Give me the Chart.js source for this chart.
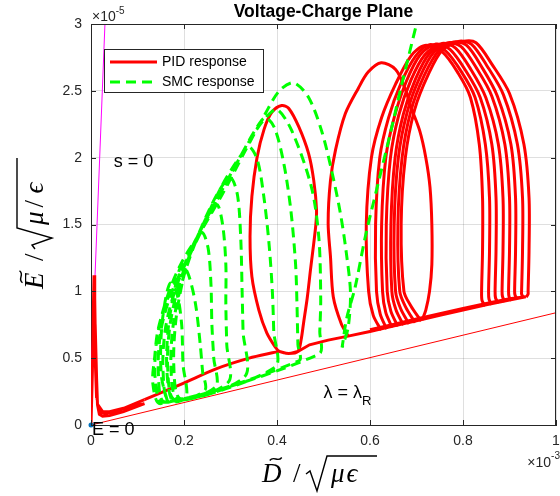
<!DOCTYPE html>
<html>
<head>
<meta charset="utf-8">
<script src="https://cdn.jsdelivr.net/npm/chart.js@4.4.0/dist/chart.umd.min.js"></script>
<style>
  html, body { margin: 0; padding: 0; background: #fff; }
  canvas { display: block; }
</style>
</head>
<body>
<canvas id="plane" width="560" height="496"></canvas>
<script>
/* ==========================
   Data (x in units of 1e-3, y in units of 1e-5)
   ========================== */
const xTicks = [0, 0.2, 0.4, 0.6, 0.8, 1];
const yTicks = [0, 0.5, 1, 1.5, 2, 2.5, 3];

// reference lines
const sLine = [[-0.004, 0], [0.03, 3]];          // s = 0
const lambdaLine = [[0, 0], [1, 0.84]];           // lambda = lambda_R
const origin = [[0, 0]];

// PID response: start-up spike + thick bottom band
const pidSpike = [
  [0, 0], [0.003, 0.4], [0.005, 0.85], [0.0065, 1.12], [0.008, 0.95], [0.01, 0.5],
  [0.012, 0.2], [0.008, 0.6], [0.006, 0.9], [0.009, 0.75], [0.012, 0.35], [0.014, 0.15],
  [0.018, 0.08], [0.025, 0.065], [0.04, 0.07], [0.07, 0.1], [0.115, 0.16], [0.07, 0.125],
  [0.04, 0.1], [0.025, 0.1], [0.017, 0.14], [0.02, 0.1], [0.03, 0.085], [0.06, 0.11], [0.115, 0.19]
];
// PID sliding ridge up to the first loop
const pidRidge = [[0.115, 0.19], [0.197, 0.31], [0.269, 0.42], [0.34, 0.5], [0.39, 0.54], [0.405, 0.55]];
// first PID loop
const pidLoop1 = [
  [0.405, 0.55], [0.425, 0.535], [0.445, 0.55], [0.452, 0.64], [0.457, 0.76], [0.465, 0.95],
  [0.472, 1.16], [0.483, 1.48], [0.485, 1.61], [0.479, 1.83], [0.468, 2.03], [0.447, 2.23],
  [0.425, 2.37], [0.41, 2.39], [0.389, 2.34], [0.372, 2.21], [0.357, 2.0], [0.346, 1.71],
  [0.342, 1.41], [0.346, 1.11], [0.361, 0.86], [0.378, 0.69], [0.397, 0.58], [0.405, 0.55],
  [0.425, 0.535], [0.445, 0.55]
];
// ridge after the first loop (travelled out and back)
const pidRidge2 = [
  [0.445, 0.55], [0.47, 0.6], [0.51, 0.635], [0.553, 0.665], [0.6, 0.7], [0.65, 0.74],
  [0.7, 0.78], [0.75, 0.82], [0.8, 0.86], [0.85, 0.9], [0.9, 0.935], [0.935, 0.96],
  [0.9, 0.945], [0.85, 0.91], [0.8, 0.872], [0.75, 0.833], [0.7, 0.793], [0.65, 0.752], [0.6, 0.712]
];
// second PID loop
const pidLoop2 = [
  [0.553, 0.665], [0.538, 0.76], [0.521, 0.96], [0.515, 1.26], [0.51, 1.51], [0.515, 1.83],
  [0.526, 2.06], [0.547, 2.33], [0.575, 2.52], [0.596, 2.64], [0.624, 2.71], [0.655, 2.66],
  [0.675, 2.52], [0.688, 2.38], [0.707, 2.2], [0.72, 2.0], [0.729, 1.78], [0.733, 1.5],
  [0.733, 1.2], [0.728, 1.0], [0.72, 0.86], [0.712, 0.785]
];
// PID limit cycles on the right
const pidCycles = [
  [[0.624, 0.709], [0.607, 0.82], [0.597, 1.0], [0.592, 1.5], [0.603, 2.0], [0.625, 2.3], [0.655, 2.55], [0.688, 2.76], [0.718, 2.84], [0.756, 2.79], [0.79, 2.63], [0.816, 2.45], [0.835, 2.1], [0.842, 1.7], [0.842, 1.3], [0.84, 1.0], [0.841, 0.93], [0.848, 0.89]],
  [[0.636, 0.718], [0.622, 0.83], [0.614, 1.0], [0.612, 1.5], [0.621, 2.0], [0.64, 2.3], [0.667, 2.56], [0.698, 2.76], [0.728, 2.845], [0.762, 2.8], [0.797, 2.64], [0.826, 2.45], [0.848, 2.1], [0.857, 1.7], [0.857, 1.3], [0.855, 1.0], [0.856, 0.94], [0.862, 0.9]],
  [[0.648, 0.728], [0.634, 0.84], [0.627, 1.0], [0.625, 1.5], [0.634, 2.0], [0.652, 2.3], [0.678, 2.57], [0.708, 2.77], [0.742, 2.85], [0.772, 2.81], [0.806, 2.65], [0.837, 2.45], [0.862, 2.1], [0.871, 1.7], [0.871, 1.3], [0.869, 1.0], [0.87, 0.95], [0.876, 0.91]],
  [[0.66, 0.737], [0.645, 0.85], [0.637, 1.0], [0.635, 1.5], [0.644, 2.0], [0.662, 2.32], [0.688, 2.58], [0.718, 2.77], [0.755, 2.855], [0.784, 2.82], [0.817, 2.66], [0.849, 2.45], [0.876, 2.1], [0.886, 1.7], [0.886, 1.3], [0.884, 1.0], [0.885, 0.96], [0.89, 0.92]],
  [[0.672, 0.747], [0.656, 0.86], [0.647, 1.0], [0.645, 1.5], [0.654, 2.0], [0.672, 2.33], [0.698, 2.59], [0.728, 2.78], [0.768, 2.86], [0.796, 2.83], [0.829, 2.67], [0.862, 2.46], [0.89, 2.1], [0.9, 1.7], [0.9, 1.3], [0.898, 1.0], [0.899, 0.96], [0.904, 0.93]],
  [[0.684, 0.756], [0.666, 0.87], [0.655, 1.0], [0.652, 1.5], [0.661, 2.0], [0.68, 2.34], [0.707, 2.6], [0.738, 2.79], [0.78, 2.865], [0.808, 2.84], [0.84, 2.68], [0.874, 2.46], [0.903, 2.1], [0.913, 1.7], [0.913, 1.3], [0.911, 1.0], [0.912, 0.97], [0.917, 0.94]],
  [[0.697, 0.766], [0.677, 0.88], [0.664, 1.0], [0.66, 1.5], [0.669, 2.0], [0.688, 2.35], [0.716, 2.61], [0.748, 2.8], [0.79, 2.87], [0.818, 2.85], [0.851, 2.69], [0.887, 2.47], [0.917, 2.1], [0.928, 1.7], [0.928, 1.3], [0.926, 1.0], [0.926, 0.98], [0.93, 0.95]],
  [[0.71, 0.777], [0.688, 0.89], [0.673, 1.0], [0.667, 1.5], [0.676, 2.0], [0.696, 2.36], [0.725, 2.62], [0.757, 2.81], [0.8, 2.87], [0.828, 2.86], [0.862, 2.7], [0.9, 2.48], [0.931, 2.1], [0.942, 1.7], [0.942, 1.3], [0.94, 1.0], [0.94, 0.98], [0.936, 0.955]]
];

// SMC response: growing loops that slide back along the bottom line
const smcCycles = [
  [[0.165, 0.17], [0.152, 0.35], [0.15, 0.6], [0.156, 0.85], [0.17, 1.06], [0.185, 0.98], [0.195, 0.75], [0.198, 0.45], [0.205, 0.21]],
  [[0.175, 0.18], [0.163, 0.42], [0.166, 0.72], [0.178, 0.98], [0.195, 1.2], [0.21, 1.12], [0.225, 0.9], [0.235, 0.6], [0.24, 0.4], [0.245, 0.26]],
  [[0.19, 0.2], [0.178, 0.45], [0.183, 0.8], [0.2, 1.12], [0.22, 1.35], [0.239, 1.44], [0.252, 1.32], [0.258, 1.05], [0.26, 0.75], [0.264, 0.5], [0.268, 0.285]],
  [[0.185, 0.2], [0.172, 0.45], [0.178, 0.78], [0.2, 1.12], [0.235, 1.45], [0.27, 1.65], [0.283, 1.5], [0.29, 1.2], [0.29, 0.9], [0.292, 0.6], [0.295, 0.32]],
  [[0.18, 0.19], [0.165, 0.42], [0.17, 0.75], [0.192, 1.08], [0.24, 1.5], [0.275, 1.75], [0.3, 1.85], [0.315, 1.72], [0.322, 1.4], [0.325, 1.0], [0.327, 0.7], [0.33, 0.36]],
  [[0.17, 0.18], [0.155, 0.4], [0.16, 0.72], [0.182, 1.02], [0.225, 1.38], [0.28, 1.78], [0.315, 1.98], [0.34, 2.08], [0.358, 1.98], [0.372, 1.7], [0.383, 1.35], [0.39, 1.0], [0.393, 0.7], [0.395, 0.43]],
  [[0.16, 0.17], [0.145, 0.38], [0.15, 0.7], [0.172, 0.98], [0.215, 1.3], [0.27, 1.68], [0.32, 2.0], [0.352, 2.2], [0.375, 2.3], [0.395, 2.22], [0.415, 1.95], [0.43, 1.6], [0.44, 1.2], [0.443, 0.9], [0.445, 0.6], [0.447, 0.48]],
  [[0.155, 0.17], [0.138, 0.35], [0.142, 0.65], [0.162, 0.92], [0.205, 1.22], [0.25, 1.54], [0.3, 1.87], [0.345, 2.15], [0.376, 2.3], [0.4, 2.36], [0.432, 2.2], [0.474, 1.78], [0.49, 1.4], [0.494, 0.95], [0.492, 0.7], [0.49, 0.53]],
  [[0.15, 0.16], [0.133, 0.31], [0.137, 0.51], [0.144, 0.71], [0.169, 1.01], [0.197, 1.23], [0.233, 1.43], [0.283, 1.73], [0.333, 2.06], [0.375, 2.33], [0.405, 2.5], [0.436, 2.56], [0.468, 2.45], [0.496, 2.2], [0.517, 1.91], [0.536, 1.59], [0.549, 1.29], [0.558, 0.99], [0.553, 0.73], [0.54, 0.58]]
];
// SMC final excursion leaving the plot
const smcEscape = [[0.54, 0.58], [0.55, 0.8], [0.568, 1.03], [0.59, 1.41], [0.617, 1.8], [0.645, 2.2], [0.667, 2.53], [0.7, 3.0], [0.71, 3.15]];

/* --------------------------
   Styles
   -------------------------- */
const RED = "#ff0000";
const GREEN = "#00ff00";
const AXIS = "#262626";
const SANS = "'Liberation Sans', Arial, Helvetica, sans-serif";
const SERIF = "'Liberation Serif', 'Times New Roman', serif";
const GREEN_DASH = [10, 6];

const toXY = (arr) => arr.map(([x, y]) => ({ x, y }));

function redSet(arr, tension) {
  return {
    data: toXY(arr),
    showLine: true,
    borderColor: RED,
    borderWidth: 3,
    tension,
    pointRadius: 0,
    order: 2,
  };
}

const datasets = [
  { data: toXY(lambdaLine), showLine: true, borderColor: RED, borderWidth: 1, pointRadius: 0, order: 4 },
  { data: toXY(sLine), showLine: true, borderColor: "#ff00ff", borderWidth: 1, pointRadius: 0, order: 4 },
  redSet(pidSpike, 0),
  redSet(pidRidge, 0.3),
  redSet(pidLoop1, 0.3),
  redSet(pidRidge2, 0),
  redSet(pidLoop2, 0.3),
  ...pidCycles.map((c) => redSet(c, 0.3)),
  {
    data: toXY(smcCycles.flat().concat(smcEscape)),
    showLine: true,
    borderColor: GREEN,
    borderWidth: 3,
    borderDash: GREEN_DASH,
    tension: 0.3,
    pointRadius: 0,
    order: 1,
  },
  {
    data: toXY(origin),
    showLine: false,
    pointRadius: 2.5,
    pointBackgroundColor: "#0072bd",
    pointBorderWidth: 0,
    clip: false,
    order: 0,
  },
];

/* --------------------------
   Helpers for the TeX-like axis labels
   -------------------------- */
function drawTilde(ctx, cx, ty) {
  ctx.beginPath();
  ctx.moveTo(cx - 6, ty + 1.5);
  ctx.bezierCurveTo(cx - 2, ty - 4, cx + 2, ty + 4, cx + 6, ty - 1.5);
  ctx.stroke();
}

function drawRadical(ctx, x0, x1, b) {
  ctx.beginPath();
  ctx.moveTo(x0, b - 8);
  ctx.lineTo(x0 + 4, b - 11);
  ctx.lineTo(x0 + 11, b + 9);
  ctx.lineTo(x0 + 21, b - 26);
  ctx.lineTo(x1, b - 26);
  ctx.stroke();
}

function mathText(ctx, txt, x, b, italic) {
  ctx.font = (italic ? "italic " : "") + "27px " + SERIF;
  ctx.fillText(txt, x, b);
  return ctx.measureText(txt).width;
}

/* --------------------------
   Plugin: box, ticks, title, texts, legend
   -------------------------- */
const decorations = {
  id: "decorations",
  afterDatasetsDraw(chart) {
    const { ctx, chartArea: a, scales } = chart;
    const sx = scales.x, sy = scales.y;
    ctx.save();

    // axes box (top and right)
    ctx.strokeStyle = AXIS;
    ctx.lineWidth = 1;
    ctx.beginPath();
    ctx.moveTo(a.left, Math.round(a.top) + 0.5);
    ctx.lineTo(a.right, Math.round(a.top) + 0.5);
    ctx.moveTo(Math.round(a.right) - 0.5, a.top);
    ctx.lineTo(Math.round(a.right) - 0.5, a.bottom);
    ctx.stroke();

    // inward tick marks
    ctx.beginPath();
    xTicks.forEach((v) => {
      const px = Math.round(sx.getPixelForValue(v)) + 0.5;
      ctx.moveTo(px, a.bottom); ctx.lineTo(px, a.bottom - 5);
      ctx.moveTo(px, a.top); ctx.lineTo(px, a.top + 5);
    });
    yTicks.forEach((v) => {
      const py = Math.round(sy.getPixelForValue(v)) + 0.5;
      ctx.moveTo(a.left, py); ctx.lineTo(a.left + 5, py);
      ctx.moveTo(a.right, py); ctx.lineTo(a.right - 5, py);
    });
    ctx.stroke();

    // title
    ctx.fillStyle = "#000";
    ctx.font = "bold 17.5px " + SANS;
    ctx.textAlign = "center";
    ctx.textBaseline = "alphabetic";
    ctx.fillText("Voltage-Charge Plane", (a.left + a.right) / 2, 17);

    // exponent labels
    ctx.fillStyle = AXIS;
    ctx.textAlign = "left";
    ctx.font = "14px " + SANS;
    ctx.fillText("\u00d710", a.left + 1, 21);
    let w = ctx.measureText("\u00d710").width;
    ctx.font = "10px " + SANS;
    ctx.fillText("-5", a.left + 1 + w, 14);

    ctx.font = "14px " + SANS;
    w = ctx.measureText("\u00d710").width;
    ctx.font = "10px " + SANS;
    const w2 = ctx.measureText("-3").width;
    ctx.fillText("-3", 560 - w2, 459);
    ctx.font = "14px " + SANS;
    ctx.fillText("\u00d710", 560 - w2 - w, 467);

    // annotations
    ctx.fillStyle = "#000";
    ctx.font = "18px " + SANS;
    ctx.fillText("s = 0", sx.getPixelForValue(0.049), sy.getPixelForValue(1.93));
    ctx.fillText("E = 0", sx.getPixelForValue(0.002), a.bottom + 10);
    const lx = sx.getPixelForValue(0.5), ly = sy.getPixelForValue(0.2);
    ctx.fillText("\u03bb = \u03bb", lx, ly);
    const lw = ctx.measureText("\u03bb = \u03bb").width;
    ctx.font = "13px " + SANS;
    ctx.fillText("R", lx + lw, ly + 7);

    // x axis label: D~ / sqrt(mu eps)
    ctx.fillStyle = "#000";
    ctx.strokeStyle = "#000";
    ctx.lineWidth = 1.4;
    let b = 482;
    let dw = mathText(ctx, "D", 262, b, true);
    drawTilde(ctx, 262 + dw / 2 + 4, b - 23);
    mathText(ctx, "/", 293, b, false);
    drawRadical(ctx, 306, 377, b);
    let mw = mathText(ctx, "\u03bc", 331, b, true);
    mathText(ctx, "\u03f5", 331 + mw + 2, b, true);

    // y axis label: E~ / sqrt(mu / eps), rotated
    ctx.save();
    ctx.translate(43, 289);
    ctx.rotate(-Math.PI / 2);
    b = 0;
    dw = mathText(ctx, "E", 0, b, true);
    drawTilde(ctx, dw / 2 + 4, b - 22);
    mathText(ctx, "/", 28, b, false);
    drawRadical(ctx, 40, 131, b);
    mw = mathText(ctx, "\u03bc", 64, b, true);
    mathText(ctx, "/", 64 + mw + 4, b, false);
    mathText(ctx, "\u03f5", 64 + mw + 18, b, true);
    ctx.restore();

    // legend
    const bx = a.left + 13, by = a.top + 25, bw = 159, bh = 43;
    ctx.fillStyle = "#fff";
    ctx.fillRect(bx, by, bw, bh);
    ctx.strokeStyle = AXIS;
    ctx.lineWidth = 1;
    ctx.strokeRect(bx + 0.5, by + 0.5, bw, bh);
    ctx.lineWidth = 3;
    ctx.strokeStyle = RED;
    ctx.beginPath();
    ctx.moveTo(bx + 6, by + 13); ctx.lineTo(bx + 53, by + 13);
    ctx.stroke();
    ctx.strokeStyle = GREEN;
    ctx.setLineDash(GREEN_DASH);
    ctx.beginPath();
    ctx.moveTo(bx + 6, by + 33); ctx.lineTo(bx + 53, by + 33);
    ctx.stroke();
    ctx.setLineDash([]);
    ctx.fillStyle = "#000";
    ctx.font = "14px " + SANS;
    ctx.textBaseline = "middle";
    ctx.fillText("PID response", bx + 58, by + 13);
    ctx.fillText("SMC response", bx + 58, by + 33);

    ctx.restore();
  },
};

/* --------------------------
   Chart
   -------------------------- */
const chart = new Chart(document.getElementById("plane").getContext("2d"), {
  type: "scatter",
  data: { datasets },
  options: {
    responsive: false,
    animation: false,
    devicePixelRatio: 1,
    layout: { padding: { left: 0, right: 1, top: 24, bottom: 0 } },
    plugins: { legend: { display: false }, tooltip: { enabled: false }, title: { display: false } },
    scales: {
      x: {
        type: "linear",
        min: 0,
        max: 1,
        afterBuildTicks: (s) => { s.ticks = xTicks.map((v) => ({ value: v })); },
        afterFit: (s) => { s.height = 71; s.paddingLeft = 0; s.paddingRight = 0; },
        ticks: {
          color: AXIS,
          font: { family: SANS, size: 14 },
          padding: 8,
          maxRotation: 0,
          autoSkip: false,
          callback: (v) => String(v),
        },
        grid: { color: "rgba(38,38,38,0.15)", drawTicks: false },
        border: { color: AXIS, width: 1 },
      },
      y: {
        type: "linear",
        min: 0,
        max: 3,
        afterBuildTicks: (s) => { s.ticks = yTicks.map((v) => ({ value: v })); },
        afterFit: (s) => { s.width = 91; s.paddingTop = 0; s.paddingBottom = 0; },
        ticks: {
          color: AXIS,
          font: { family: SANS, size: 14 },
          padding: 9,
          autoSkip: false,
          callback: (v) => String(v),
        },
        grid: { color: "rgba(38,38,38,0.15)", drawTicks: false },
        border: { color: AXIS, width: 1 },
      },
    },
  },
  plugins: [decorations],
});
</script>
</body>
</html>
